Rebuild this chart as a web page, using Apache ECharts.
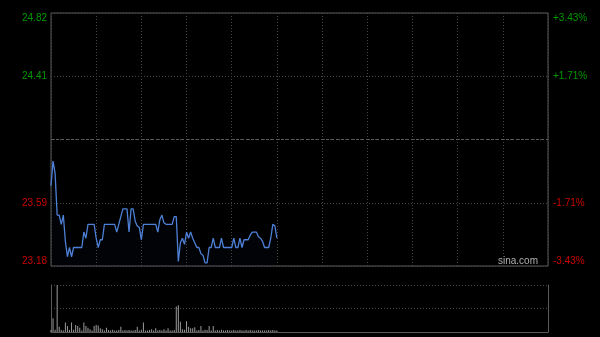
<!DOCTYPE html>
<html><head><meta charset="utf-8">
<script src="https://cdn.jsdelivr.net/npm/echarts@6/dist/echarts.min.js"></script>
<style>html,body{margin:0;padding:0;background:#000;}#c{width:600px;height:337px;}</style>
</head><body><div id="c"></div>
<script>
// ---- data ----
const prevClose = 24.00;
const leftTickLabels  = ["23.18", "23.59", "", "24.41", "24.82"];
const rightTickLabels = ["-3.43%", "-1.71%", "", "+1.71%", "+3.43%"];
const sessionMinutes = 242;
const prices = [
  23.70,23.86,23.78,23.51,23.51,23.45,23.51,23.34,23.24,23.30,
  23.24,23.30,23.30,23.30,23.30,23.30,23.40,23.36,23.45,23.45,
  23.45,23.45,23.36,23.30,23.35,23.35,23.45,23.45,23.45,23.45,
  23.45,23.45,23.40,23.45,23.50,23.55,23.55,23.55,23.40,23.55,
  23.55,23.47,23.44,23.43,23.35,23.45,23.45,23.45,23.45,23.45,
  23.45,23.45,23.40,23.48,23.51,23.46,23.45,23.45,23.45,23.45,
  23.50,23.50,23.21,23.33,23.36,23.32,23.40,23.36,23.40,23.36,
  23.33,23.30,23.30,23.26,23.25,23.20,23.20,23.30,23.30,23.36,
  23.30,23.30,23.30,23.36,23.30,23.30,23.30,23.30,23.30,23.36,
  23.30,23.30,23.36,23.30,23.35,23.35,23.35,23.38,23.40,23.40,
  23.40,23.37,23.36,23.34,23.30,23.30,23.30,23.36,23.45,23.44,
  23.36
];
const volumes = [
  4,29,5,100,11,4,3,20,13,4,
  20,5,15,13,9,3,20,13,9,6,
  3,13,15,14,8,6,3,9,4,3,
  5,3,3,4,11,3,4,3,4,3,
  3,4,11,3,5,20,3,3,4,6,
  3,8,3,4,3,6,3,8,3,3,
  4,54,57,22,6,5,23,11,8,8,
  10,3,4,13,3,5,4,13,3,13,
  3,4,3,5,3,3,4,3,3,4,
  3,3,4,3,3,4,3,4,3,3,
  3,4,3,3,3,3,4,3,4,3,
  3
];

// ---- chart ----
const chart = echarts.init(document.getElementById('c'), null, {renderer: 'canvas'});
const lineData = prices.map((p, i) => [i, +(p - prevClose).toFixed(4)]);
const volData = volumes.map((v, i) => [i, v]);
const font = 'Arial, "Liberation Sans", sans-serif';
const labelColor = v => (Number(v) > 0 ? '#009900' : (Number(v) < 0 ? '#cc0000' : '#888'));
const dotted = {color: '#454545', type: [1, 2], width: 1};

chart.setOption({
  backgroundColor: '#000',
  animation: false,
  grid: [
    {left: 51, right: 52, top: 13, height: 253, show: true, borderColor: '#5a5a5a', borderWidth: 1, backgroundColor: 'transparent'},
    {left: 51, right: 52, top: 285, height: 47, show: false}
  ],
  xAxis: [
    {type: 'value', gridIndex: 0, min: 0, max: sessionMinutes, interval: 22,
     axisLine: {show: false}, axisTick: {show: false}, axisLabel: {show: false},
     splitLine: {show: true, lineStyle: dotted}},
    {type: 'value', gridIndex: 1, min: 0, max: sessionMinutes, interval: 22,
     axisLine: {show: true, onZero: false, lineStyle: {color: '#5a5a5a'}}, axisTick: {show: false}, axisLabel: {show: false},
     splitLine: {show: false}}
  ],
  yAxis: [
    {type: 'value', gridIndex: 0, min: -0.82, max: 0.82, interval: 0.41, position: 'left',
     axisLine: {show: false}, axisTick: {show: false},
     axisLabel: {show: true, margin: 4, fontSize: 10, fontFamily: font,
       formatter: (v, i) => leftTickLabels[i] || '',
       color: labelColor,
       verticalAlignMaxLabel: 'top', verticalAlignMinLabel: 'bottom'},
     splitLine: {show: true, lineStyle: dotted}},
    {type: 'value', gridIndex: 0, min: -0.82, max: 0.82, interval: 0.41, position: 'right',
     axisLine: {show: false}, axisTick: {show: false},
     axisLabel: {show: true, margin: 5, fontSize: 10, fontFamily: font,
       formatter: (v, i) => rightTickLabels[i] || '',
       color: labelColor,
       verticalAlignMaxLabel: 'top', verticalAlignMinLabel: 'bottom'},
     splitLine: {show: false}},
    {type: 'value', gridIndex: 1, min: 0, max: 100, interval: 50, position: 'left',
     axisLine: {show: true, lineStyle: {color: '#5a5a5a'}}, axisTick: {show: false}, axisLabel: {show: false},
     splitLine: {show: true, lineStyle: dotted}},
    {type: 'value', gridIndex: 1, min: 0, max: 100, interval: 50, position: 'right',
     axisLine: {show: true, lineStyle: {color: '#5a5a5a'}}, axisTick: {show: false}, axisLabel: {show: false},
     splitLine: {show: false}}
  ],
  series: [
    {type: 'line', xAxisIndex: 0, yAxisIndex: 0, data: lineData, symbol: 'none',
     lineStyle: {color: '#4d80d6', width: 1.3},
     areaStyle: {color: 'rgba(40,80,160,0.06)', origin: 'start'},
     markLine: {silent: true, symbol: 'none', label: {show: false},
       lineStyle: {color: '#5a5a5a', type: [3, 2], width: 1},
       data: [{yAxis: 0}]}},
    {type: 'bar', xAxisIndex: 1, yAxisIndex: 2, data: volData, barWidth: 1,
     itemStyle: {color: '#9a9a9a'}}
  ],
  graphic: [
    {type: 'text', left: 498, top: 256, style: {text: 'sina.com', fill: '#b0b0b0', font: '10px ' + font}}
  ]
});
</script></body></html>
